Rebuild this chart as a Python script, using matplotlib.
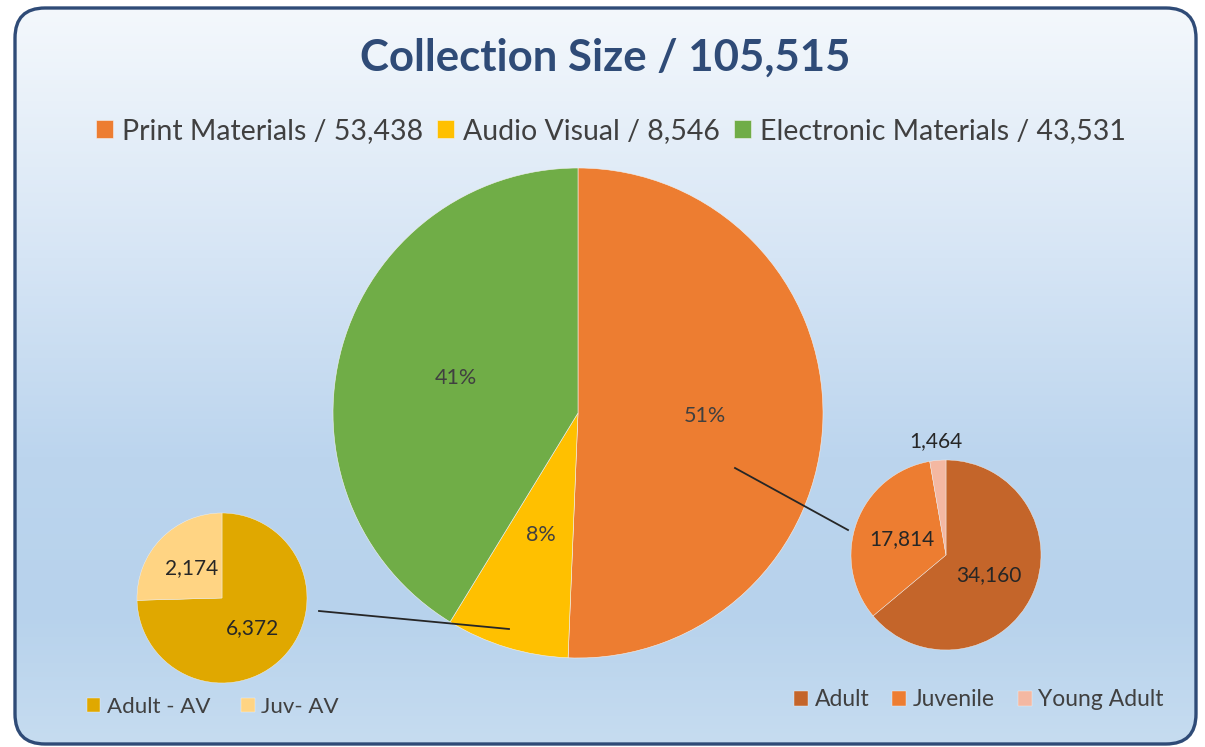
import matplotlib.pyplot as plt
import numpy as np
from matplotlib.patches import FancyBboxPatch
from matplotlib.colors import LinearSegmentedColormap

plt.rcParams['font.family'] = ['Lato', 'DejaVu Sans']

# data
title = "Collection Size / 105,515"
main_labels = ["Print Materials / 53,438", "Audio Visual / 8,546", "Electronic Materials / 43,531"]
main_values = [53438, 8546, 43531]
main_colors = ["#ED7D31", "#FFC000", "#70AD47"]

print_labels = ["Adult", "Juvenile", "Young Adult"]
print_values = [34160, 17814, 1464]
print_colors = ["#C4652A", "#ED7D31", "#F4B8A2"]

av_labels = ["Adult - AV", "Juv- AV"]
av_values = [6372, 2174]
av_colors = ["#E0A800", "#FFD483"]

W, H = 1205, 747
txt_color = "#404040"
navy = "#2F4B77"

fig = plt.figure(figsize=(W / 100, H / 100), dpi=100)
ax = fig.add_axes([0, 0, 1, 1])
ax.set_xlim(0, W)
ax.set_ylim(0, H)
ax.set_aspect('equal')
ax.axis('off')


def py(y):
    # pixel row (from top) -> data y
    return H - y


# background panel with vertical gradient
panel = FancyBboxPatch((15, py(744)), 1181, 736, boxstyle="round,pad=0,rounding_size=30",
                       facecolor="none", edgecolor=navy, linewidth=2.4, zorder=5)
grad = LinearSegmentedColormap.from_list("bg", [
    (0.0, "#F4F8FC"), (0.34, "#D6E5F5"), (0.61, "#BCD5EE"),
    (0.82, "#B7D2EC"), (1.0, "#C6DCF0")])
img = ax.imshow(np.linspace(0, 1, 256).reshape(-1, 1), cmap=grad, aspect='auto',
                extent=(15, 1196, py(744), py(8)), zorder=0)
ax.add_patch(panel)
img.set_clip_path(panel)

# main pie
w_main, _, pct = ax.pie(main_values, colors=main_colors, startangle=90, counterclock=False,
                        center=(578, py(413)), radius=245, autopct='%1.0f%%', pctdistance=0.52,
                        wedgeprops=dict(edgecolor="#F2F2F2", linewidth=0.4),
                        textprops=dict(color=txt_color, fontsize=15.5))

# print breakdown pie (right)
w_print, _, pct_p = ax.pie(print_values, colors=print_colors, startangle=90, counterclock=False,
                           center=(946, py(555)), radius=95,
                           autopct=lambda p: f"{p * sum(print_values) / 100:,.0f}" if p > 5 else "",
                           pctdistance=0.5, wedgeprops=dict(edgecolor="#F2F2F2", linewidth=0.3),
                           textprops=dict(color="#262626", fontsize=15))
ya = w_print[2]
ang = np.deg2rad((ya.theta1 + ya.theta2) / 2)
ax.text(946 + 1.2 * 95 * np.cos(ang), py(555) + 1.2 * 95 * np.sin(ang), f"{print_values[2]:,}",
        ha='center', va='center', color="#262626", fontsize=15)

# AV breakdown pie (left)
w_av, _, pct_a = ax.pie(av_values, colors=av_colors, startangle=90, counterclock=False,
                        center=(222, py(598)), radius=85,
                        autopct=lambda p: f"{p * sum(av_values) / 100:,.0f}",
                        pctdistance=0.5, wedgeprops=dict(edgecolor="#F2F2F2", linewidth=0.3),
                        textprops=dict(color="#262626", fontsize=15))
ax.set_xlim(0, W)
ax.set_ylim(0, H)
ax.set_aspect('equal')

# connector lines
ax.plot([735, 848], [py(468), py(530)], color="#262626", lw=1.3, zorder=4)
ax.plot([319, 509], [py(611), py(629)], color="#262626", lw=1.3, zorder=4)

# title
ax.text(605, py(58), title, ha='center', va='center', fontsize=31.5, fontweight='bold', color=navy)

# legends
leg_kw = dict(frameon=False, handlelength=0.6, handleheight=0.6, handletextpad=0.3,
              labelcolor=txt_color, borderaxespad=0)
leg1 = ax.legend(w_main, main_labels, ncol=3, loc='center', bbox_to_anchor=(611 / W, 1 - 131 / H),
                 fontsize=20.5, columnspacing=0.5, **leg_kw)
ax.add_artist(leg1)
leg2 = ax.legend(w_av, av_labels, ncol=2, loc='center', bbox_to_anchor=(213 / W, 1 - 707 / H),
                 fontsize=16, columnspacing=1.4, **leg_kw)
ax.add_artist(leg2)
ax.legend(w_print, print_labels, ncol=3, loc='center', bbox_to_anchor=(979 / W, 1 - 700 / H),
          fontsize=16.5, columnspacing=1.0, **leg_kw)

fig.savefig("out.png", dpi=100, facecolor="white")
